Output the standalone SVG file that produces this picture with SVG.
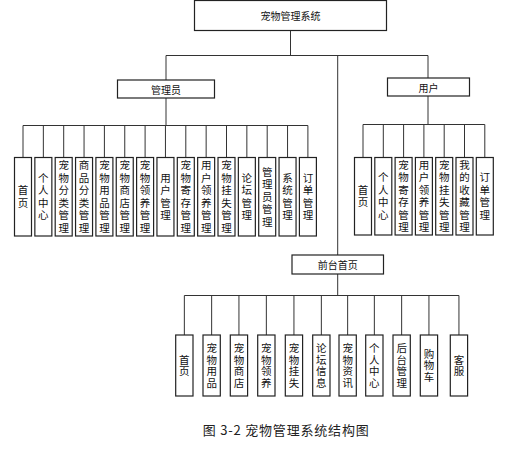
<svg xmlns="http://www.w3.org/2000/svg" width="507" height="451" viewBox="0 0 507 451">
<style>
.bx{fill:#fff;stroke:#222;stroke-width:1.2}
.ln{fill:none;stroke:#333;stroke-width:1}
.h{font-family:"Noto Sans CJK SC","Noto Sans CJK JP",sans-serif;font-size:10px;fill:#111;text-anchor:middle;dominant-baseline:central}
.v{font-family:"Noto Sans CJK SC","Noto Sans CJK JP",sans-serif;font-size:10.5px;fill:#111;text-anchor:middle;dominant-baseline:central;writing-mode:vertical-rl;letter-spacing:2px}
.w{font-family:"Noto Sans CJK SC","Noto Sans CJK JP",sans-serif;font-size:10.5px;fill:#111;text-anchor:middle;dominant-baseline:central;writing-mode:vertical-rl;letter-spacing:1.3px}
</style>
<rect width="507" height="451" fill="#fff"/>
<g id="connectors" class="ln">
<path d="M290.5 30.5V55.5M166 55.5H428M166 55.5V80M428 55.5V78M337.7 55.5V255"/>
<path d="M166 98V125.5M23 125.5H307.9M23 125.5V157.5M43.35 125.5V157.5M63.7 125.5V157.5M84.05 125.5V157.5M104.4 125.5V157.5M124.75 125.5V157.5M145.1 125.5V157.5M165.45 125.5V157.5M185.8 125.5V157.5M206.15 125.5V157.5M226.5 125.5V157.5M246.85 125.5V157.5M267.2 125.5V157.5M287.55 125.5V157.5M307.9 125.5V157.5"/>
<path d="M428 96V124.5M363 124.5H484.8M363 124.5V157.5M383.3 124.5V157.5M403.6 124.5V157.5M423.9 124.5V157.5M444.2 124.5V157.5M464.5 124.5V157.5M484.8 124.5V157.5"/>
<path d="M337.7 274V295.5M184.35 295.5H458.95M184.35 295.5V335M211.65 295.5V335M238.95 295.5V335M266.35 295.5V335M293.95 295.5V335M321.35 295.5V335M347.65 295.5V335M374.35 295.5V335M401.65 295.5V335M428.95 295.5V335M458.95 295.5V335"/>
</g>
<g id="root"><rect class="bx" x="194.5" y="0.5" width="192" height="30"/><text class="h" x="290.5" y="15.5">宠物管理系统</text></g>
<g id="admin"><rect class="bx" x="117.5" y="80" width="97" height="18"/><text class="h" x="166" y="89">管理员</text></g>
<g id="user"><rect class="bx" x="387.5" y="78" width="82" height="18"/><text class="h" x="428.5" y="87">用户</text></g>
<g id="front"><rect class="bx" x="292" y="255" width="91.5" height="19"/><text class="h" x="337.7" y="264.5">前台首页</text></g>

<g id="a0"><rect class="bx" x="14.5" y="157.5" width="17" height="78.5"/><text class="v" x="23" y="197.75">首页</text></g>
<g id="a1"><rect class="bx" x="34.85" y="157.5" width="17" height="78.5"/><text class="v" x="43.35" y="197.75">个人中心</text></g>
<g id="a2"><rect class="bx" x="55.2" y="157.5" width="17" height="78.5"/><text class="v" x="63.7" y="197.75">宠物分类管理</text></g>
<g id="a3"><rect class="bx" x="75.55" y="157.5" width="17" height="78.5"/><text class="v" x="84.05" y="197.75">商品分类管理</text></g>
<g id="a4"><rect class="bx" x="95.9" y="157.5" width="17" height="78.5"/><text class="v" x="104.4" y="197.75">宠物用品管理</text></g>
<g id="a5"><rect class="bx" x="116.25" y="157.5" width="17" height="78.5"/><text class="v" x="124.75" y="197.75">宠物商店管理</text></g>
<g id="a6"><rect class="bx" x="136.6" y="157.5" width="17" height="78.5"/><text class="v" x="145.1" y="197.75">宠物领养管理</text></g>
<g id="a7"><rect class="bx" x="156.95" y="157.5" width="17" height="78.5"/><text class="v" x="165.45" y="197.75">用户管理</text></g>
<g id="a8"><rect class="bx" x="177.3" y="157.5" width="17" height="78.5"/><text class="v" x="185.8" y="197.75">宠物寄存管理</text></g>
<g id="a9"><rect class="bx" x="197.65" y="157.5" width="17" height="78.5"/><text class="v" x="206.15" y="197.75">用户领养管理</text></g>
<g id="a10"><rect class="bx" x="218" y="157.5" width="17" height="78.5"/><text class="v" x="226.5" y="197.75">宠物挂失管理</text></g>
<g id="a11"><rect class="bx" x="238.35" y="157.5" width="17" height="78.5"/><text class="v" x="246.85" y="197.75">论坛管理</text></g>
<g id="a12"><rect class="bx" x="258.7" y="157.5" width="17" height="78.5"/><text class="v" x="267.2" y="197.75">管理员管理</text></g>
<g id="a13"><rect class="bx" x="279.05" y="157.5" width="17" height="78.5"/><text class="v" x="287.55" y="197.75">系统管理</text></g>
<g id="a14"><rect class="bx" x="299.4" y="157.5" width="17" height="78.5"/><text class="v" x="307.9" y="197.75">订单管理</text></g>

<g id="u0"><rect class="bx" x="354.5" y="157.5" width="17" height="77.5"/><text class="v" x="363" y="197.25">首页</text></g>
<g id="u1"><rect class="bx" x="374.8" y="157.5" width="17" height="77.5"/><text class="v" x="383.3" y="197.25">个人中心</text></g>
<g id="u2"><rect class="bx" x="395.1" y="157.5" width="17" height="77.5"/><text class="v" x="403.6" y="197.25">宠物寄存管理</text></g>
<g id="u3"><rect class="bx" x="415.4" y="157.5" width="17" height="77.5"/><text class="v" x="423.9" y="197.25">用户领养管理</text></g>
<g id="u4"><rect class="bx" x="435.7" y="157.5" width="17" height="77.5"/><text class="v" x="444.2" y="197.25">宠物挂失管理</text></g>
<g id="u5"><rect class="bx" x="456" y="157.5" width="17" height="77.5"/><text class="v" x="464.5" y="197.25">我的收藏管理</text></g>
<g id="u6"><rect class="bx" x="476.3" y="157.5" width="17" height="77.5"/><text class="v" x="484.8" y="197.25">订单管理</text></g>

<g id="f0"><rect class="bx" x="175.7" y="335" width="17.3" height="61"/><text class="w" x="184.35" y="366.15">首页</text></g>
<g id="f1"><rect class="bx" x="203" y="335" width="17.3" height="61"/><text class="w" x="211.65" y="366.15">宠物用品</text></g>
<g id="f2"><rect class="bx" x="230.3" y="335" width="17.3" height="61"/><text class="w" x="238.95" y="366.15">宠物商店</text></g>
<g id="f3"><rect class="bx" x="257.7" y="335" width="17.3" height="61"/><text class="w" x="266.35" y="366.15">宠物领养</text></g>
<g id="f4"><rect class="bx" x="285.3" y="335" width="17.3" height="61"/><text class="w" x="293.95" y="366.15">宠物挂失</text></g>
<g id="f5"><rect class="bx" x="312.7" y="335" width="17.3" height="61"/><text class="w" x="321.35" y="366.15">论坛信息</text></g>
<g id="f6"><rect class="bx" x="339" y="335" width="17.3" height="61"/><text class="w" x="347.65" y="366.15">宠物资讯</text></g>
<g id="f7"><rect class="bx" x="365.7" y="335" width="17.3" height="61"/><text class="w" x="374.35" y="366.15">个人中心</text></g>
<g id="f8"><rect class="bx" x="393" y="335" width="17.3" height="61"/><text class="w" x="401.65" y="366.15">后台管理</text></g>
<g id="f9"><rect class="bx" x="420.3" y="335" width="17.3" height="61"/><text class="w" x="428.95" y="366.15">购物车</text></g>
<g id="f10"><rect class="bx" x="450.3" y="335" width="17.3" height="61"/><text class="w" x="458.95" y="366.15">客服</text></g>

<text x="285.7" y="429" font-family="Noto Sans CJK SC, Noto Sans CJK JP, sans-serif" font-size="13" fill="#222" text-anchor="middle" dominant-baseline="central" textLength="166" lengthAdjust="spacing">图 3-2 宠物管理系统结构图</text>
</svg>
